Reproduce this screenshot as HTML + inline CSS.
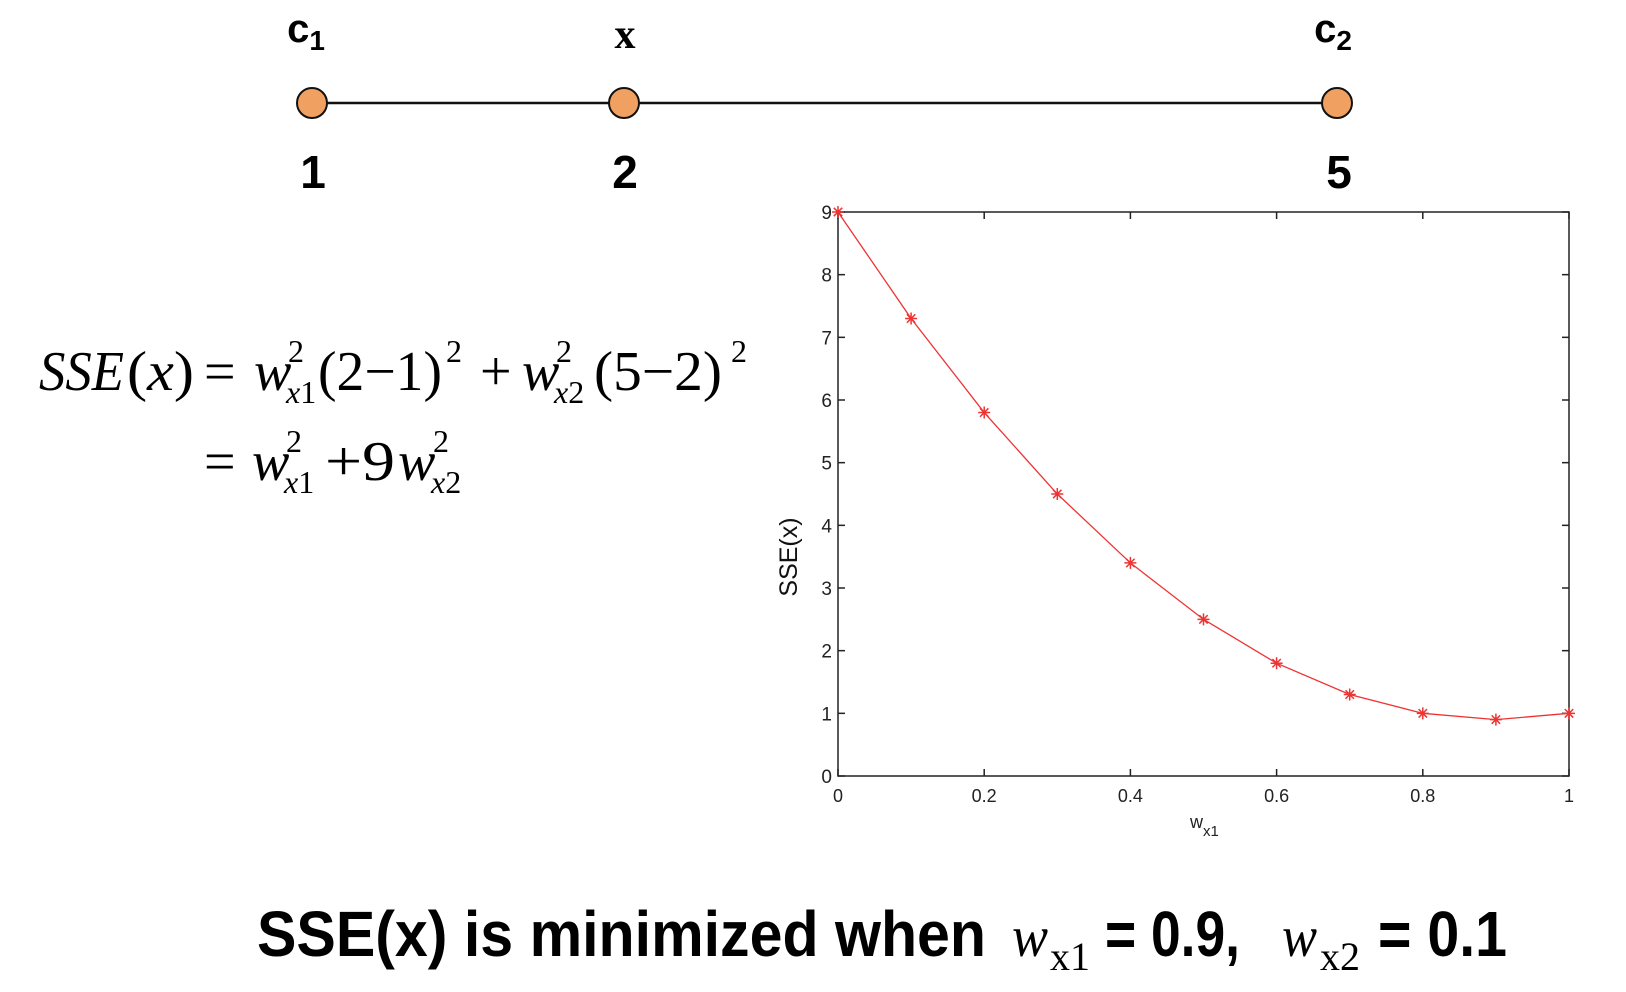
<!DOCTYPE html>
<html><head><meta charset="utf-8"><style>
html,body{margin:0;padding:0;background:#fff;}
svg{display:block;}
</style></head><body>
<svg id="page" width="1626" height="992" viewBox="0 0 1626 992" xmlns="http://www.w3.org/2000/svg">
  <g font-family="Liberation Sans, sans-serif" font-weight="bold" text-anchor="middle">
    <line x1="312" y1="103" x2="1337" y2="103" stroke="#111" stroke-width="2.5"/>
    <circle cx="312" cy="103" r="15" fill="#f0a060" stroke="#111" stroke-width="2"/>
    <circle cx="624" cy="103" r="15" fill="#f0a060" stroke="#111" stroke-width="2"/>
    <circle cx="1337" cy="103" r="15" fill="#f0a060" stroke="#111" stroke-width="2"/>
    <text x="306" y="42" font-size="40">c<tspan font-size="28" dy="8">1</tspan></text>
    <text x="625" y="48" font-family="Liberation Serif, serif" font-size="42">x</text>
    <text x="1333" y="42" font-size="40">c<tspan font-size="28" dy="8">2</tspan></text>
    <text x="313" y="188" font-size="46">1</text>
    <text x="625" y="188" font-size="46">2</text>
    <text x="1339" y="188" font-size="46">5</text>
  </g>

  <g font-family="Liberation Serif, serif" font-size="56" fill="#000">
    <text x="39" y="390" font-style="italic" textLength="85" lengthAdjust="spacingAndGlyphs">SSE</text>
    <text x="127" y="390" textLength="67" lengthAdjust="spacingAndGlyphs">(<tspan font-style="italic">x</tspan>)</text>
    <text x="204" y="390">=</text>
    <text x="254" y="390" font-style="italic">w</text>
    <text x="288" y="362" font-size="32">2</text>
    <text x="286" y="403" font-size="32" font-style="italic">x<tspan font-style="normal">1</tspan></text>
    <text x="318" y="390" textLength="124" lengthAdjust="spacingAndGlyphs">(2−1)</text>
    <text x="446" y="362" font-size="32">2</text>
    <text x="480" y="390">+</text>
    <text x="522" y="390" font-style="italic">w</text>
    <text x="556" y="362" font-size="32">2</text>
    <text x="554" y="403" font-size="32" font-style="italic">x<tspan font-style="normal">2</tspan></text>
    <text x="594" y="390" textLength="128" lengthAdjust="spacingAndGlyphs">(5−2)</text>
    <text x="731" y="362" font-size="32">2</text>

    <text x="204" y="480">=</text>
    <text x="252" y="480" font-style="italic">w</text>
    <text x="286" y="452" font-size="32">2</text>
    <text x="284" y="493" font-size="32" font-style="italic">x<tspan font-style="normal">1</tspan></text>
    <text x="325" y="480" textLength="70" lengthAdjust="spacingAndGlyphs">+9</text>
    <text x="398" y="480" font-style="italic">w</text>
    <text x="433" y="452" font-size="32">2</text>
    <text x="431" y="493" font-size="32" font-style="italic">x<tspan font-style="normal">2</tspan></text>
  </g>

  <g id="chart"></g>

  <g fill="#000">
    <text x="257" y="956" font-family="Liberation Sans, sans-serif" font-weight="bold" font-size="64" textLength="729" lengthAdjust="spacingAndGlyphs">SSE(x) is minimized when</text>
    <text x="1012" y="956" font-family="Liberation Serif, serif" font-style="italic" font-size="58" textLength="36" lengthAdjust="spacingAndGlyphs">w</text>
    <text x="1050" y="970" font-family="Liberation Serif, serif" font-size="40" textLength="40" lengthAdjust="spacingAndGlyphs">x1</text>
    <text x="1105" y="956" font-family="Liberation Sans, sans-serif" font-weight="bold" font-size="64" textLength="135" lengthAdjust="spacingAndGlyphs">= 0.9,</text>
    <text x="1282" y="956" font-family="Liberation Serif, serif" font-style="italic" font-size="58" textLength="35" lengthAdjust="spacingAndGlyphs">w</text>
    <text x="1320" y="970" font-family="Liberation Serif, serif" font-size="40" textLength="40" lengthAdjust="spacingAndGlyphs">x2</text>
    <text x="1378" y="956" font-family="Liberation Sans, sans-serif" font-weight="bold" font-size="64" textLength="129" lengthAdjust="spacingAndGlyphs">= 0.1</text>
  </g>
</svg>
<script>
const xValues = [0, 0.1, 0.2, 0.3, 0.4, 0.5, 0.6, 0.7, 0.8, 0.9, 1.0];
const sseValues = [9, 7.3, 5.8, 4.5, 3.4, 2.5, 1.8, 1.3, 1.0, 0.9, 1.0];
const xTicks = [0, 0.2, 0.4, 0.6, 0.8, 1];
const xTickLabels = ["0", "0.2", "0.4", "0.6", "0.8", "1"];
const yTicks = [0, 1, 2, 3, 4, 5, 6, 7, 8, 9];

const NS = "http://www.w3.org/2000/svg";
const L = 838, R = 1569, T = 212, B = 776;
const X = v => L + (v - 0) / (1 - 0) * (R - L);
const Y = v => B - (v - 0) / (9 - 0) * (B - T);
const g = document.getElementById('chart');
function mk(tag, attrs) {
  const e = document.createElementNS(NS, tag);
  for (const k in attrs) e.setAttribute(k, attrs[k]);
  g.appendChild(e);
  return e;
}
const frame = mk('rect', {x: L, y: T, width: R - L, height: B - T, fill: 'none', stroke: '#222', 'stroke-width': 1.5});



xTicks.forEach((t, i) => {
  const x = X(t);
  const a = mk('line', {x1: x, y1: B, x2: x, y2: B - 7, stroke: '#222', 'stroke-width': 1.5});
  
  
  const b = mk('line', {x1: x, y1: T, x2: x, y2: T + 7, stroke: '#222', 'stroke-width': 1.5});
  
  
  const tx = mk('text', {x: x, y: B + 26, 'text-anchor': 'middle', 'font-family': 'Liberation Sans, sans-serif', 'font-size': 18, fill: '#222'});
  tx.textContent = xTickLabels[i];
  
  
});
yTicks.forEach(t => {
  const y = Y(t);
  const a = mk('line', {x1: L, y1: y, x2: L + 7, y2: y, stroke: '#222', 'stroke-width': 1.5});
  
  
  const b = mk('line', {x1: R, y1: y, x2: R - 7, y2: y, stroke: '#222', 'stroke-width': 1.5});
  
  
  const tx = mk('text', {x: L - 6, y: y + 7, 'text-anchor': 'end', 'font-family': 'Liberation Sans, sans-serif', 'font-size': 19, fill: '#222'});
  tx.textContent = String(t);
  
  
});

const pts = xValues.map((v, i) => X(v) + ',' + Y(sseValues[i])).join(' ');
const line = mk('polyline', {points: pts, fill: 'none', stroke: '#ee3333', 'stroke-width': 1.3});


xValues.forEach((v, i) => {
  const cx = X(v), cy = Y(sseValues[i]), s = 6;
  const m = mk('path', {d: `M${cx-s},${cy}H${cx+s}M${cx},${cy-s}V${cy+s}M${cx-s*0.7},${cy-s*0.7}L${cx+s*0.7},${cy+s*0.7}M${cx-s*0.7},${cy+s*0.7}L${cx+s*0.7},${cy-s*0.7}`, stroke: '#ee3333', 'stroke-width': 1.5, fill: 'none'});
  
  
});

const yl = mk('text', {x: 0, y: 0, transform: 'translate(797,557) rotate(-90)', 'text-anchor': 'middle', 'font-family': 'Liberation Sans, sans-serif', 'font-size': 25, fill: '#111'});
yl.textContent = 'SSE(x)';


const xl = mk('text', {x: 1190, y: 828, 'font-family': 'Liberation Sans, sans-serif', 'font-size': 18, fill: '#222'});
xl.innerHTML = 'w<tspan font-size="15" dy="8">x1</tspan>';


</script>
</body></html>
